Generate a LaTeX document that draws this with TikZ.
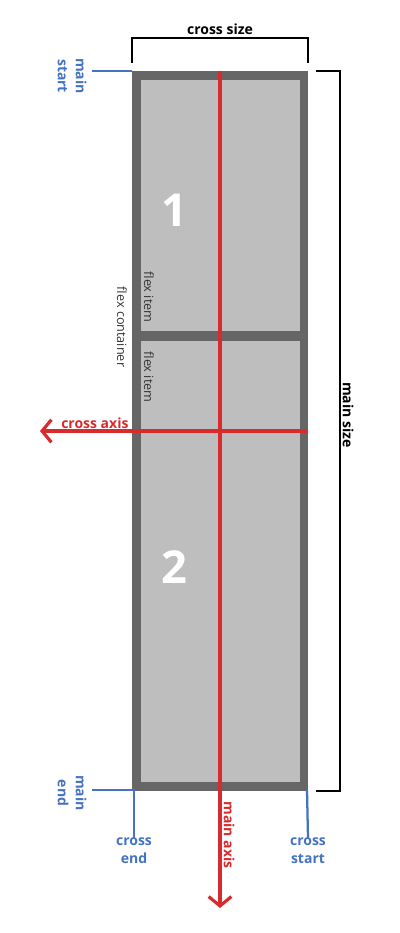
\documentclass[tikz,border=0pt]{standalone}
\usepackage{fontspec}
\setmainfont{Open Sans}
\usetikzlibrary{arrows.meta}
\definecolor{boxgray}{HTML}{666666}
\definecolor{itemgray}{HTML}{BEBEBE}
\definecolor{axisred}{HTML}{D92B2B}
\definecolor{guideblue}{HTML}{4472C4}
\tikzset{
  axisline/.style={axisred, line width=2.4pt, -{Straight Barb[length=7pt,width=17pt]}},
  axislbl/.style={text=axisred, font=\bfseries\fontsize{10.5}{12}\selectfont, inner sep=0pt},
  guideline/.style={guideblue, line width=1.7pt},
  guidelbl/.style={text=guideblue, font=\bfseries\fontsize{10.5}{13.5}\selectfont, align=center, inner sep=0pt},
  bracketline/.style={black, line width=1.1pt},
  sizelbl/.style={font=\bfseries\fontsize{10.5}{12}\selectfont, inner sep=0pt},
  itemlbl/.style={text=black!80, font=\fontsize{9.5}{11}\selectfont, rotate=-90, inner sep=0pt},
  numlbl/.style={text=white, font=\bfseries\fontsize{34}{36}\selectfont, inner sep=0pt}
}
\begin{document}
\begin{tikzpicture}[x=0.75pt,y=-0.75pt]
\useasboundingbox (0,0) rectangle (400,933);
\fill[boxgray] (132,71) rectangle (308,791);
\fill[itemgray] (141,80) rectangle (300,331);
\fill[itemgray] (141,341) rectangle (300,782);
\coordinate (tl) at (132,71);
\coordinate (tr) at (308,71);
\coordinate (bl) at (134,790);
\coordinate (br) at (307,790);
\coordinate (mtop) at (220,71);
\coordinate (mbot) at (220,908);
\coordinate (cright) at (308,431);
\coordinate (cleft) at (40,431);
\node[numlbl] (one) at (174,210) {1};
\node[numlbl] (two) at (174,567) {2};
\node[itemlbl] (item1) at (149,297) {flex item};
\node[itemlbl] (item2) at (149,377) {flex item};
\node[itemlbl] (container) at (122,327) {flex container};
\draw[axisline] (mtop) -- (mbot);
\draw[axisline] (cright) -- (cleft);
\node[axislbl, anchor=west] (crossaxis) at (61,423) {cross axis};
\node[axislbl, rotate=-90] (mainaxis) at (229,835) {main axis};
\draw[bracketline] (132,63) -- (132,38) -- (308,38) -- (308,63);
\node[sizelbl] (crosssize) at (220,29) {cross size};
\draw[bracketline] (316,71) -- (340,71) -- (340,791) -- (316,791);
\node[sizelbl, rotate=-90] (mainsize) at (348,415) {main size};
\node[guidelbl, rotate=-90] (mainstart) at (72,76) {main\\start};
\node[guidelbl, rotate=-90] (mainend) at (72,793) {main\\end};
\node[guidelbl] (crossend) at (134,851) {cross\\end};
\node[guidelbl] (crossstart) at (308,851) {cross\\start};
\draw[guideline] (92,71) -- (tl);
\draw[guideline] (92,790) -- (bl) -- (crossend.north);
\draw[guideline] (br) -- (crossstart.north);
\end{tikzpicture}
\end{document}
